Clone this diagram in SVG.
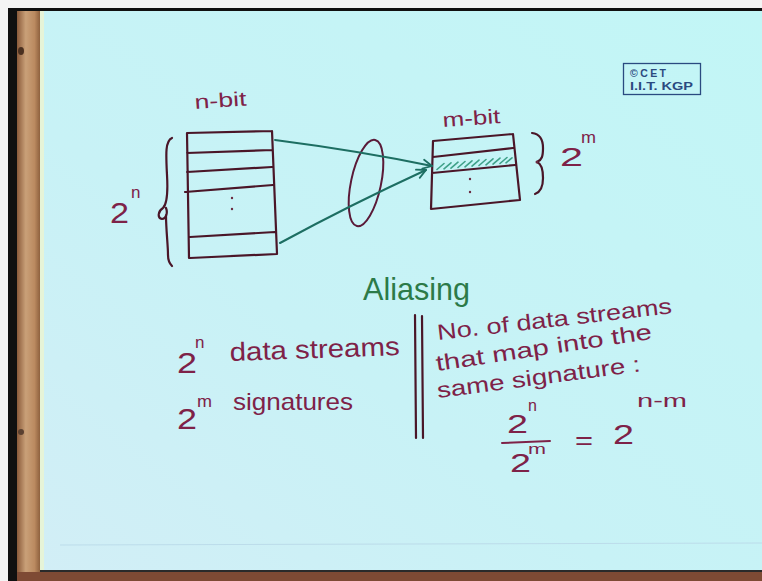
<svg xmlns="http://www.w3.org/2000/svg" width="762" height="581" viewBox="0 0 762 581">
<defs>
<linearGradient id="slide" x1="1" y1="0" x2="0" y2="1">
<stop offset="0" stop-color="#c2f6f6"/>
<stop offset="0.6" stop-color="#c8f2f6"/>
<stop offset="1" stop-color="#d2eef6"/>
</linearGradient>
<linearGradient id="wood" x1="0" y1="0" x2="1" y2="0">
<stop offset="0" stop-color="#8a5a3a"/>
<stop offset="0.35" stop-color="#c9a078"/>
<stop offset="0.7" stop-color="#bb8a60"/>
<stop offset="1" stop-color="#7e5232"/>
</linearGradient>
<marker id="ah" markerWidth="12" markerHeight="12" refX="10" refY="6" orient="auto" markerUnits="userSpaceOnUse">
<path d="M1,1.5 L10,6 L1,10.5" fill="none" stroke="#1d6e62" stroke-width="1.8" stroke-linecap="round" stroke-linejoin="round"/>
</marker>
<style>
.ink{fill:none;stroke:#4a1628;stroke-width:2.2;stroke-linecap:round;stroke-linejoin:round}
.hw{font-family:"Liberation Sans","DejaVu Sans",sans-serif;fill:#7e2248}
.green{fill:#2c7a48}
.arrow{fill:none;stroke:#1d6e62;stroke-width:2;stroke-linecap:round}
.hatch{fill:none;stroke:#3fa088;stroke-width:1.6;stroke-linecap:round}
.dot{fill:#6a2a40}
.logo{font-family:"Liberation Sans","DejaVu Sans",sans-serif;font-weight:bold;font-size:10.5px;fill:#2a4a80}
</style>
</defs>

<g id="frame">
<rect x="0" y="0" width="762" height="581" fill="#f4f4f4"/>
<rect x="8" y="8" width="754" height="573" fill="#101010"/>
<rect x="17" y="11" width="25" height="562" fill="url(#wood)"/>
<ellipse cx="21" cy="51" rx="3" ry="4" fill="#4a3020"/>
<ellipse cx="21" cy="432" rx="3" ry="3" fill="#5a4030"/>
<rect x="40" y="11" width="722" height="560" fill="url(#slide)"/>
<rect x="40" y="11" width="4" height="560" fill="#e6f4d8"/>
<line x1="60" y1="545" x2="762" y2="543" stroke="#bcdcea" stroke-width="1"/>
<rect x="40" y="570" width="722" height="2" fill="#2a2a2a"/>
<rect x="17" y="572" width="745" height="9" fill="#7e4a34"/>
</g>

<g id="logo">
<rect x="623.5" y="63.5" width="77" height="31" fill="none" stroke="#2a4a80" stroke-width="1.3"/>
<text class="logo" x="630" y="77" textLength="36" lengthAdjust="spacing">©CET</text>
<text class="logo" x="630" y="90" textLength="63" lengthAdjust="spacingAndGlyphs">I.I.T. KGP</text>
</g>

<g id="nbit-table">
<text class="hw" x="195" y="109" font-size="20" textLength="52" lengthAdjust="spacingAndGlyphs" transform="rotate(-4 195 109)">n-bit</text>
<path class="ink" d="M187,133 L272,131 M187,153 L272,150 M187,172 L272,167 M185,192 L273,185 M190,237 L275,232 M190,258 L277,254 M187,133 L189,258 M272,131 L277,254"/>
<circle class="dot" cx="232" cy="198" r="1.2"/>
<circle class="dot" cx="232" cy="209" r="1.2"/>
<path class="ink" d="M172,138 C165,141 166,155 167,175 C168,192 167,204 163,208 C158,211 157,218 162,219 C166,219 168,213 166,208 M166,215 C166,230 168,245 168,255 C168,261 170,264 172,266" stroke-width="1.6"/>
<text class="hw" x="110" y="223" font-size="30" textLength="19" lengthAdjust="spacingAndGlyphs">2</text>
<text class="hw" x="131" y="198" font-size="17">n</text>
</g>

<g id="hash-function">
<ellipse cx="366" cy="183" rx="15" ry="44" transform="rotate(12 366 183)" fill="none" stroke="#5a1a38" stroke-width="2"/>
</g>

<g id="mbit-table">
<text class="hw" x="443" y="127" font-size="20" textLength="58" lengthAdjust="spacingAndGlyphs" transform="rotate(-4 443 127)">m-bit</text>
<path class="hatch" d="M437,169.5 l7,-6 M444,168.8 l7,-6 M451,168.2 l7,-6 M458,167.5 l7,-6 M465,166.8 l7,-6 M472,166.1 l7,-6 M479,165.5 l7,-6 M486,164.8 l7,-6 M493,164.1 l7,-6 M500,163.5 l7,-6 M506,162.8 l6,-5"/>
<path class="ink" d="M433,141 L513,134 M433,157 L513,148 M432,173 L515,165 M431,209 L520,200 M433,141 L431,209 M513,134 L520,200"/>
<circle class="dot" cx="470" cy="179" r="1.2"/>
<circle class="dot" cx="470" cy="192" r="1.2"/>
<path class="ink" d="M532,133 C540,134 543,140 543,148 C543,156 542,160 537,162 C542,164 543,170 543,178 C543,186 541,192 535,194" stroke-width="1.6"/>
<circle class="dot" cx="537" cy="162" r="1.5"/>
<text class="hw" x="560" y="166" font-size="25" textLength="23" lengthAdjust="spacingAndGlyphs">2</text>
<text class="hw" x="581" y="143" font-size="16" textLength="15" lengthAdjust="spacingAndGlyphs">m</text>
</g>

<g id="connectors">
<path class="arrow" d="M275,140 Q360,151 432,166" marker-end="url(#ah)"/>
<path class="arrow" d="M280,243 Q350,205 426,170" marker-end="url(#ah)"/>
</g>

<g id="aliasing">
<text class="hw green" x="363" y="300" font-size="32" textLength="107" lengthAdjust="spacingAndGlyphs">Aliasing</text>
</g>

<g id="counts">
<text class="hw" x="177" y="373" font-size="30" textLength="20" lengthAdjust="spacingAndGlyphs">2</text>
<text class="hw" x="195" y="348" font-size="17">n</text>
<text class="hw" x="230" y="361" font-size="26" textLength="170" lengthAdjust="spacingAndGlyphs" transform="rotate(-2 230 361)">data streams</text>
<text class="hw" x="177" y="429" font-size="30" textLength="20" lengthAdjust="spacingAndGlyphs">2</text>
<text class="hw" x="197" y="407" font-size="17" textLength="15" lengthAdjust="spacingAndGlyphs">m</text>
<text class="hw" x="233" y="410" font-size="24" textLength="120" lengthAdjust="spacingAndGlyphs">signatures</text>
</g>

<g id="divider">
<path class="ink" d="M415,315 L416,438 M422,316 L423,438" stroke-width="1.8"/>
</g>

<g id="explanation">
<text class="hw" x="438" y="340" font-size="22" textLength="236" lengthAdjust="spacingAndGlyphs" transform="rotate(-6.5 438 340)">No. of data streams</text>
<text class="hw" x="437" y="371" font-size="22" textLength="218" lengthAdjust="spacingAndGlyphs" transform="rotate(-8.5 437 371)">that map into the</text>
<text class="hw" x="438" y="398" font-size="22" textLength="205" lengthAdjust="spacingAndGlyphs" transform="rotate(-7.5 438 398)">same signature :</text>
<text class="hw" x="507" y="433" font-size="26" textLength="21" lengthAdjust="spacingAndGlyphs">2</text>
<text class="hw" x="528" y="411" font-size="16">n</text>
<path d="M502,443 L550,441" fill="none" stroke="#7e2248" stroke-width="2" stroke-linecap="round"/>
<text class="hw" x="510" y="472" font-size="26" textLength="21" lengthAdjust="spacingAndGlyphs">2</text>
<text class="hw" x="528" y="454" font-size="15" textLength="18" lengthAdjust="spacingAndGlyphs">m</text>
<text class="hw" x="575" y="449" font-size="26" textLength="18" lengthAdjust="spacingAndGlyphs">=</text>
<text class="hw" x="613" y="444" font-size="28" textLength="21" lengthAdjust="spacingAndGlyphs">2</text>
<text class="hw" x="637" y="407" font-size="18" textLength="50" lengthAdjust="spacingAndGlyphs">n-m</text>
</g>
</svg>
